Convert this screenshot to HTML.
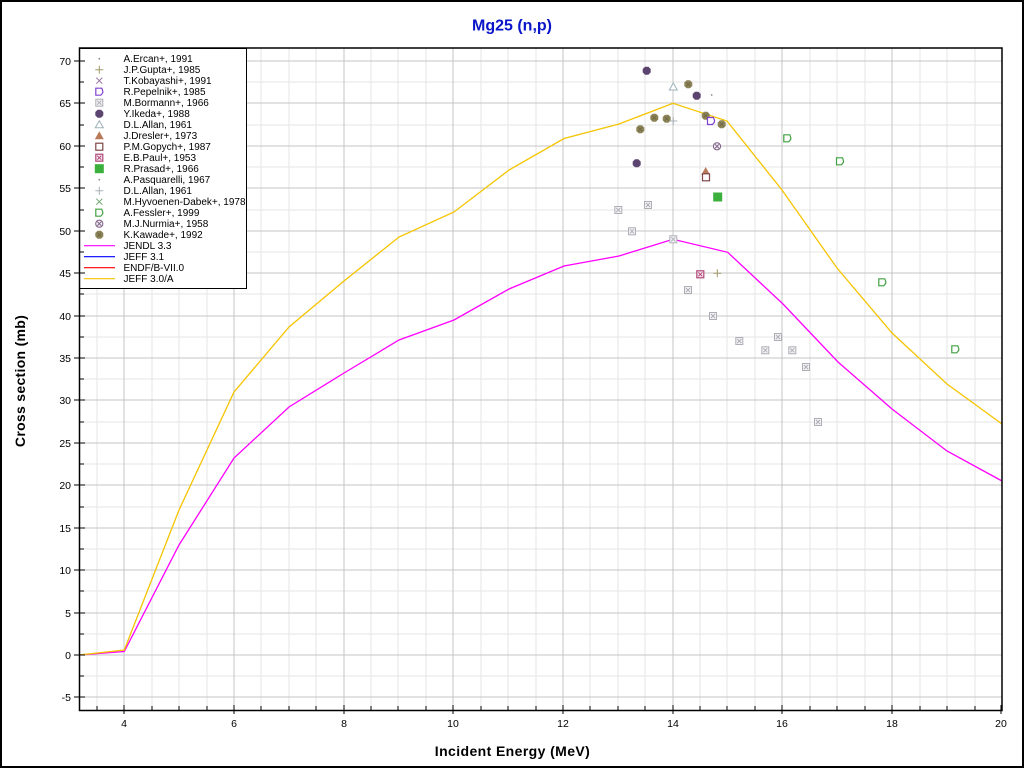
<!DOCTYPE html>
<html><head><meta charset="utf-8"><style>
html,body{margin:0;padding:0;background:#fff;}
svg{display:block;font-family:"Liberation Sans",sans-serif;}
</style></head><body>
<svg width="1024" height="768" viewBox="0 0 1024 768" xmlns="http://www.w3.org/2000/svg">
<defs>
<g id="bor"><rect x="-3.5" y="-3.5" width="7" height="7" fill="#f2f2f4" stroke="#aeaeb6" stroke-width="1"/><path d="M-2,-2L2,2M2,-2L-2,2" stroke="#aeaeb6" stroke-width="1"/></g>
<g id="nur"><circle r="3.6" fill="#f4eef4" stroke="#7a5e84" stroke-width="1"/><path d="M-2,-2L2,2M2,-2L-2,2" stroke="#7a5e84" stroke-width="1"/></g>
<polygon id="ike" points="-1.7,-4 1.7,-4 4,-1.7 4,1.7 1.7,4 -1.7,4 -4,1.7 -4,-1.7" fill="#5c4470"/>
<g id="kaw"><polygon points="-1.7,-4 1.7,-4 4,-1.7 4,1.7 1.7,4 -1.7,4 -4,1.7 -4,-1.7" fill="#8c8458"/><path d="M-2,-2L2,2M2,-2L-2,2" stroke="#6e6640" stroke-width="0.8"/></g>
<polygon id="tri" points="0,-4 4,3 -4,3" fill="#fff" stroke="#9eb2ba" stroke-width="1"/>
<polygon id="dres" points="0,-4.5 4.5,3.5 -4.5,3.5" fill="#b87a5a"/>
<rect id="gop" x="-3.5" y="-3.5" width="7" height="7" fill="#fff" stroke="#7e4646" stroke-width="1.2"/>
<g id="paul"><rect x="-3.5" y="-3.5" width="7" height="7" fill="#f6e6ee" stroke="#b04878" stroke-width="1.2"/><path d="M-2,-2L2,2M2,-2L-2,2" stroke="#b04878" stroke-width="1"/></g>
<rect id="pras" x="-4.5" y="-4.5" width="9" height="9" fill="#3cb03c"/>
<path id="pep" d="M-3.5,-3.5H2.5L3.5,-0.5L3.5,1L1.5,3.5H-3.5Z" fill="#fff" stroke="#8040d0" stroke-width="1.2"/>
<path id="fes" d="M-3.5,-3.5H2.5L3.5,-0.5L3.5,1L1.5,3.5H-3.5Z" fill="#fff" stroke="#40a040" stroke-width="1.2"/>
<path id="gup" d="M-4,0H4M0,-4V4" stroke="#a09868" stroke-width="1"/>
<path id="alp" d="M-4,0H4M0,-4V4" stroke="#a8b0b8" stroke-width="1"/>
<path id="kob" d="M-3,-3L3,3M3,-3L-3,3" stroke="#9870a0" stroke-width="1"/>
<path id="hyv" d="M-3,-3L3,3M3,-3L-3,3" stroke="#70a870" stroke-width="1"/>
<circle id="dot" r="0.9" fill="#8a8a9a"/>
</defs>

<rect x="1" y="1" width="1022" height="766" fill="#fff" stroke="#000" stroke-width="2"/>

<text x="512" y="30.5" font-size="16" font-weight="bold" fill="#0a14c8" text-anchor="middle">Mg25 (n,p)</text>

<!-- minor grid -->
<g stroke="#e6e6e6" stroke-width="1" shape-rendering="crispEdges">
<path d="M97,48V710M152,48V710M179,48V710M207,48V710M261,48V710M289,48V710M316,48V710M371,48V710M398,48V710M426,48V710M481,48V710M508,48V710M536,48V710M590,48V710M618,48V710M645,48V710M700,48V710M727,48V710M755,48V710M810,48V710M837,48V710M865,48V710M920,48V710M947,48V710M975,48V710"/>
<path d="M79,676H1002M79,634H1002M79,591H1002M79,549H1002M79,507H1002M79,464H1002M79,422H1002M79,379H1002M79,337H1002M79,294H1002M79,252H1002M79,210H1002M79,167H1002M79,125H1002M79,82H1002"/>
</g>
<!-- major grid -->
<g stroke="#c4c4c4" stroke-width="1" shape-rendering="crispEdges">
<path d="M124,48V710M234,48V710M344,48V710M453,48V710M563,48V710M673,48V710M782,48V710M892,48V710"/>
<path d="M79,697H1002M79,655H1002M79,613H1002M79,570H1002M79,528H1002M79,485H1002M79,443H1002M79,400H1002M79,358H1002M79,316H1002M79,273H1002M79,231H1002M79,188H1002M79,146H1002M79,103H1002M79,61H1002"/>
</g>

<!-- curves -->
<polyline fill="none" stroke="#ff00ff" stroke-width="1.3" points="79,655 124.3,651.5 179,545 234,458 289,407 344,373 399,340 454,320 509,289 564,266 619,256 673,239.3 727.7,252.3 783,304 838,362 892,409 947,451 1002,481"/>
<polyline fill="none" stroke="#f5c400" stroke-width="1.3" points="79,655 124.3,650 179,510 234,392 289,327 344,281 399,237 454,212 509,170 564,138.5 619,124 673,103.3 727,121 782,190 837,268 892,333 947,384 1002,424"/>

<!-- data -->
<use href="#bor" x="618.3" y="210"/>
<use href="#bor" x="648" y="205"/>
<use href="#bor" x="632" y="231.3"/>
<use href="#bor" x="673.3" y="239.3"/>
<use href="#bor" x="688" y="290"/>
<use href="#bor" x="713" y="316"/>
<use href="#bor" x="739.3" y="341"/>
<use href="#bor" x="765.3" y="350.3"/>
<use href="#bor" x="778" y="337"/>
<use href="#bor" x="792.3" y="350.3"/>
<use href="#bor" x="806" y="367"/>
<use href="#bor" x="818" y="422"/>
<use href="#ike" x="646.7" y="70.7"/>
<use href="#ike" x="636.7" y="163.3"/>
<use href="#ike" x="696.7" y="95.7"/>
<use href="#kaw" x="688.3" y="84.3"/>
<use href="#kaw" x="654.3" y="117.7"/>
<use href="#kaw" x="666.7" y="118.7"/>
<use href="#kaw" x="640.3" y="129.3"/>
<use href="#kaw" x="705.7" y="115.7"/>
<use href="#kaw" x="721.7" y="124.3"/>
<use href="#tri" x="673.3" y="87"/>
<use href="#alp" x="673.3" y="121"/>
<use href="#dot" x="711.7" y="95"/>
<use href="#pep" x="711" y="121"/>
<use href="#nur" x="717" y="146.3"/>
<use href="#dres" x="705.7" y="171.5"/>
<use href="#gop" x="706" y="177.3"/>
<use href="#pras" x="717.7" y="197"/>
<use href="#paul" x="700.3" y="274.3"/>
<use href="#gup" x="717.3" y="273.3"/>
<use href="#fes" x="787.3" y="138.3"/>
<use href="#fes" x="840" y="161.3"/>
<use href="#fes" x="882.3" y="282.3"/>
<use href="#fes" x="955.3" y="349.3"/>

<!-- legend -->
<rect x="79.5" y="48.5" width="167" height="240" fill="#fff" stroke="#000" stroke-width="1"/>
<use href="#dot" x="99.3" y="58.7"/>
<use href="#gup" x="99.3" y="69.7"/>
<use href="#kob" x="99.3" y="80.7"/>
<use href="#pep" x="99.3" y="91.7"/>
<use href="#bor" x="99.3" y="102.7"/>
<use href="#ike" x="99.3" y="113.7"/>
<use href="#tri" x="99.3" y="124.7"/>
<use href="#dres" x="99.3" y="135.7"/>
<use href="#gop" x="99.3" y="146.7"/>
<use href="#paul" x="99.3" y="157.7"/>
<use href="#pras" x="99.3" y="168.7"/>
<use href="#dot" x="99.3" y="179.7"/>
<use href="#alp" x="99.3" y="190.7"/>
<use href="#hyv" x="99.3" y="201.7"/>
<use href="#fes" x="99.3" y="212.7"/>
<use href="#nur" x="99.3" y="223.7"/>
<use href="#kaw" x="99.3" y="234.7"/>
<path d="M84,245.7H115" stroke="#ff00ff" stroke-width="1.2"/>
<path d="M84,256.7H115" stroke="#0000ff" stroke-width="1.2"/>
<path d="M84,267.7H115" stroke="#ff0000" stroke-width="1.2"/>
<path d="M84,278.7H115" stroke="#f5c400" stroke-width="1.2"/>
<g font-size="10" fill="#000">
<text x="123.5" y="62.2">A.Ercan+, 1991</text>
<text x="123.5" y="73.2">J.P.Gupta+, 1985</text>
<text x="123.5" y="84.2">T.Kobayashi+, 1991</text>
<text x="123.5" y="95.2">R.Pepelnik+, 1985</text>
<text x="123.5" y="106.2">M.Bormann+, 1966</text>
<text x="123.5" y="117.2">Y.Ikeda+, 1988</text>
<text x="123.5" y="128.2">D.L.Allan, 1961</text>
<text x="123.5" y="139.2">J.Dresler+, 1973</text>
<text x="123.5" y="150.2">P.M.Gopych+, 1987</text>
<text x="123.5" y="161.2">E.B.Paul+, 1953</text>
<text x="123.5" y="172.2">R.Prasad+, 1966</text>
<text x="123.5" y="183.2">A.Pasquarelli, 1967</text>
<text x="123.5" y="194.2">D.L.Allan, 1961</text>
<text x="123.5" y="205.2">M.Hyvoenen-Dabek+, 1978</text>
<text x="123.5" y="216.2">A.Fessler+, 1999</text>
<text x="123.5" y="227.2">M.J.Nurmia+, 1958</text>
<text x="123.5" y="238.2">K.Kawade+, 1992</text>
<text x="123.5" y="249.2">JENDL 3.3</text>
<text x="123.5" y="260.2">JEFF 3.1</text>
<text x="123.5" y="271.2">ENDF/B-VII.0</text>
<text x="123.5" y="282.2">JEFF 3.0/A</text>
</g>

<!-- axes frame -->
<path d="M79.5,48V710.5H1002V48Z" fill="none" stroke="#000" stroke-width="1.5"/>

<!-- ticks -->
<g stroke="#000" stroke-width="1" shape-rendering="crispEdges">
<path d="M74,697H85M74,655H85M74,613H85M74,570H85M74,528H85M74,485H85M74,443H85M74,400H85M74,358H85M74,316H85M74,273H85M74,231H85M74,188H85M74,146H85M74,103H85M74,61H85"/>
<path d="M79,676H84M79,634H84M79,591H84M79,549H84M79,507H84M79,464H84M79,422H84M79,379H84M79,337H84M79,294H84M79,252H84M79,210H84M79,167H84M79,125H84M79,82H84"/>
<path d="M124,705V714M234,705V714M344,705V714M453,705V714M563,705V714M673,705V714M782,705V714M892,705V714M1001,705V714"/>
<path d="M97,706V710M152,706V710M179,706V710M207,706V710M261,706V710M289,706V710M316,706V710M371,706V710M398,706V710M426,706V710M481,706V710M508,706V710M536,706V710M590,706V710M618,706V710M645,706V710M700,706V710M727,706V710M755,706V710M810,706V710M837,706V710M865,706V710M920,706V710M947,706V710M975,706V710"/>
</g>

<g font-size="10.5" fill="#000" text-anchor="end">
<text x="71" y="701">-5</text>
<text x="71" y="659">0</text>
<text x="71" y="617">5</text>
<text x="71" y="574">10</text>
<text x="71" y="532">15</text>
<text x="71" y="489">20</text>
<text x="71" y="447">25</text>
<text x="71" y="404">30</text>
<text x="71" y="362">35</text>
<text x="71" y="320">40</text>
<text x="71" y="277">45</text>
<text x="71" y="235">50</text>
<text x="71" y="192">55</text>
<text x="71" y="150">60</text>
<text x="71" y="107">65</text>
<text x="71" y="65">70</text>
</g>
<g font-size="10.5" fill="#000" text-anchor="middle">
<text x="124" y="727">4</text>
<text x="234" y="727">6</text>
<text x="344" y="727">8</text>
<text x="453" y="727">10</text>
<text x="563" y="727">12</text>
<text x="673" y="727">14</text>
<text x="782" y="727">16</text>
<text x="892" y="727">18</text>
<text x="1001" y="727">20</text>
</g>

<text x="512.5" y="756" font-size="14" font-weight="bold" letter-spacing="0.4" text-anchor="middle">Incident Energy (MeV)</text>
<text transform="translate(25,381) rotate(-90)" font-size="14" font-weight="bold" letter-spacing="0.3" text-anchor="middle">Cross section (mb)</text>
</svg>
</body></html>
